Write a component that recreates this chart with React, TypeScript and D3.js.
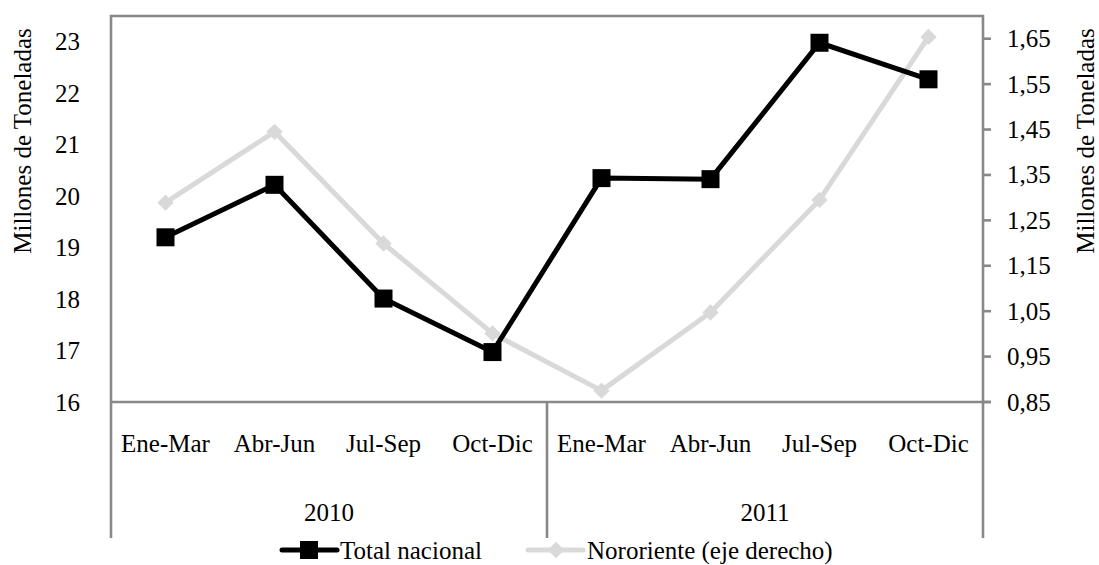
import { useEffect, useRef } from 'react';
import * as d3 from 'd3';

const quarters = ['Ene-Mar', 'Abr-Jun', 'Jul-Sep', 'Oct-Dic', 'Ene-Mar', 'Abr-Jun', 'Jul-Sep', 'Oct-Dic'];
const years = ['2010', '2011'];
const totalNacional = [19.2, 20.22, 18.01, 16.97, 20.35, 20.33, 22.98, 22.27];
const nororiente = [1.289, 1.445, 1.199, 1.001, 0.875, 1.047, 1.295, 1.654];
const leftTicks = [16, 17, 18, 19, 20, 21, 22, 23];
const rightTicks = [0.85, 0.95, 1.05, 1.15, 1.25, 1.35, 1.45, 1.55, 1.65];

const App = () => {
  const chartRef = useRef(null);

  useEffect(() => {
    d3.select(chartRef.current).selectAll('svg').remove();

    const width = 1099;
    const height = 565;
    const left = 111, right = 983, top = 16, bottom = 402;
    const axisColor = '#888888';
    const fs = 25;

    const svg = d3.select(chartRef.current)
      .append('svg')
      .attr('width', width)
      .attr('height', height)
      .attr('font-family', "'Liberation Serif', 'Times New Roman', Times, 'DejaVu Serif', serif")
      .attr('font-size', fs)
      .style('position', 'absolute')
      .style('left', 0)
      .style('top', 0);

    const idx = quarters.map((_, i) => i);
    const x = d3.scaleBand<number>().domain(idx).range([left, right]);
    const cx = (i: number) => (x(i) as number) + x.bandwidth() / 2;

    const yL = d3.scaleLinear().domain([16, 23.5]).range([bottom, top]);
    const yR = d3.scaleLinear().domain([0.85, 1.70]).range([bottom, top]);

    // frame
    svg.append('path')
      .attr('d', `M${left},${bottom + 136} V${top} H${right} V${bottom + 136}`)
      .attr('fill', 'none')
      .attr('stroke', axisColor)
      .attr('stroke-width', 2.6);

    svg.append('line')
      .attr('x1', left).attr('x2', right + 8)
      .attr('y1', bottom).attr('y2', bottom)
      .attr('stroke', axisColor).attr('stroke-width', 2.6);

    // year divider
    const mid = x(4) as number;
    svg.append('line')
      .attr('x1', mid).attr('x2', mid)
      .attr('y1', bottom).attr('y2', bottom + 136)
      .attr('stroke', axisColor).attr('stroke-width', 2.6);

    // right ticks
    svg.selectAll('.rtick')
      .data(rightTicks)
      .enter()
      .append('line')
      .attr('class', 'rtick')
      .attr('x1', right).attr('x2', right + 8)
      .attr('y1', d => yR(d)).attr('y2', d => yR(d))
      .attr('stroke', axisColor).attr('stroke-width', 2.6);

    svg.selectAll('.rlabel')
      .data(rightTicks)
      .enter()
      .append('text')
      .attr('class', 'rlabel')
      .attr('x', right + 24)
      .attr('y', d => yR(d))
      .attr('dominant-baseline', 'central')
      .text(d => d3.format('.2f')(d).replace('.', ','));

    svg.selectAll('.llabel')
      .data(leftTicks)
      .enter()
      .append('text')
      .attr('class', 'llabel')
      .attr('x', 80)
      .attr('y', d => yL(d))
      .attr('text-anchor', 'end')
      .attr('dominant-baseline', 'central')
      .text(d => d);

    // axis titles
    svg.append('text')
      .attr('transform', `translate(22,${(top + bottom) / 2 - 68}) rotate(-90)`)
      .attr('text-anchor', 'middle')
      .attr('dominant-baseline', 'central')
      .text('Millones de Toneladas');

    svg.append('text')
      .attr('transform', `translate(1085,${(top + bottom) / 2 - 68}) rotate(-90)`)
      .attr('text-anchor', 'middle')
      .attr('dominant-baseline', 'central')
      .text('Millones de Toneladas');

    // category labels
    svg.selectAll('.cat')
      .data(quarters)
      .enter()
      .append('text')
      .attr('class', 'cat')
      .attr('x', (_, i) => cx(i))
      .attr('y', 443)
      .attr('text-anchor', 'middle')
      .attr('dominant-baseline', 'central')
      .text(d => d);

    svg.selectAll('.year')
      .data(years)
      .enter()
      .append('text')
      .attr('class', 'year')
      .attr('x', (_, i) => ((x(i * 4) as number) + (x(i * 4 + 3) as number) + x.bandwidth()) / 2)
      .attr('y', 512)
      .attr('text-anchor', 'middle')
      .attr('dominant-baseline', 'central')
      .text(d => d);

    // Nororiente (right axis)
    const lineR = d3.line<number>()
      .x((_, i) => cx(i))
      .y(d => yR(d));

    svg.append('path')
      .datum(nororiente)
      .attr('d', lineR)
      .attr('fill', 'none')
      .attr('stroke', '#d9d9d9')
      .attr('stroke-width', 5)
      .attr('stroke-linejoin', 'round');

    const diamond = d3.symbol().type(d3.symbolDiamond2).size(170);
    svg.selectAll('.dia')
      .data(nororiente)
      .enter()
      .append('path')
      .attr('class', 'dia')
      .attr('d', diamond)
      .attr('transform', (d, i) => `translate(${cx(i)},${yR(d)})`)
      .attr('fill', '#d9d9d9');

    // Total nacional (left axis)
    const lineL = d3.line<number>()
      .x((_, i) => cx(i))
      .y(d => yL(d));

    svg.append('path')
      .datum(totalNacional)
      .attr('d', lineL)
      .attr('fill', 'none')
      .attr('stroke', '#000')
      .attr('stroke-width', 5);

    svg.selectAll('.sq')
      .data(totalNacional)
      .enter()
      .append('rect')
      .attr('class', 'sq')
      .attr('x', (_, i) => cx(i) - 9)
      .attr('y', d => yL(d) - 9)
      .attr('width', 18)
      .attr('height', 18)
      .attr('fill', '#000');

    // legend
    const ly = 550;
    svg.append('line')
      .attr('x1', 282).attr('x2', 337).attr('y1', ly).attr('y2', ly)
      .attr('stroke', '#000').attr('stroke-width', 5).attr('stroke-linecap', 'round');
    svg.append('rect')
      .attr('x', 300).attr('y', ly - 9).attr('width', 18).attr('height', 18)
      .attr('fill', '#000');
    svg.append('text')
      .attr('x', 340).attr('y', ly)
      .attr('dominant-baseline', 'central')
      .text('Total nacional');

    svg.append('line')
      .attr('x1', 528).attr('x2', 583).attr('y1', ly).attr('y2', ly)
      .attr('stroke', '#d9d9d9').attr('stroke-width', 5).attr('stroke-linecap', 'round');
    svg.append('path')
      .attr('d', diamond)
      .attr('transform', `translate(556,${ly})`)
      .attr('fill', '#d9d9d9');
    svg.append('text')
      .attr('x', 587).attr('y', ly)
      .attr('dominant-baseline', 'central')
      .text('Nororiente (eje derecho)');
  }, []);

  return <div ref={chartRef}></div>;
};

export default App;
